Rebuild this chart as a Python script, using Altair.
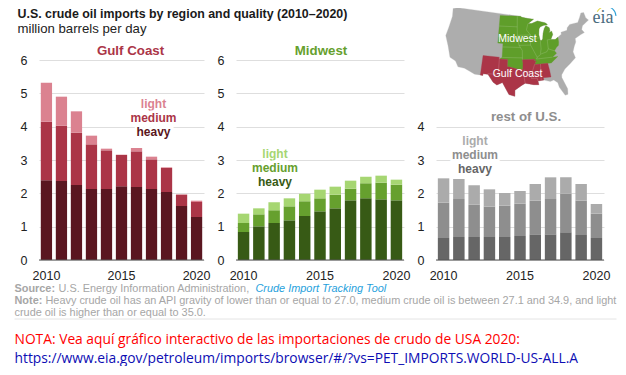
import altair as alt

years = [str(y) for y in range(2010, 2021)]

gulf_heavy = [2.39, 2.37, 2.25, 2.13, 2.13, 2.21, 2.19, 2.13, 2.04, 1.62, 1.29]
gulf_medium = [4.15, 4.03, 3.82, 3.47, 3.29, 3.15, 3.26, 3.02, 2.76, 1.96, 1.74]
gulf_light = [5.32, 4.90, 4.46, 3.73, 3.34, 3.16, 3.36, 3.10, 2.78, 1.97, 1.78]

mid_heavy = [0.84, 1.01, 1.11, 1.19, 1.32, 1.46, 1.55, 1.79, 1.85, 1.82, 1.79]
mid_medium = [1.11, 1.37, 1.49, 1.61, 1.76, 1.85, 1.96, 2.14, 2.30, 2.32, 2.26]
mid_light = [1.39, 1.55, 1.73, 1.85, 1.99, 2.11, 2.20, 2.38, 2.50, 2.53, 2.41]

rest_heavy = [0.66, 0.69, 0.69, 0.69, 0.69, 0.72, 0.77, 0.77, 0.83, 0.75, 0.66]
rest_medium = [1.72, 1.83, 1.66, 1.60, 1.63, 1.69, 1.78, 1.83, 1.99, 1.78, 1.39]
rest_light = [2.45, 2.43, 2.24, 2.12, 2.01, 2.07, 2.28, 2.48, 2.48, 2.28, 1.68]

# Rough lon/lat outlines for the locator map
us_outline = [[-124.7,48.4],[-122.8,49],[-95.2,49],[-94.6,48.7],[-92,48.3],[-89.6,48],[-92.1,46.8],[-90.5,46.8],[-88,47.4],[-85,46.7],[-84.5,46.5],[-84,46],[-85.5,46],[-87,45.7],[-87.6,45.1],[-87.9,43.5],[-87.6,41.8],[-87,41.7],[-86.5,42.1],[-86.2,43.5],[-85.5,45],[-84.7,45.8],[-83.4,45.1],[-83.3,44.2],[-83.9,43.7],[-82.6,44],[-82.4,43],[-83.1,42.1],[-83.4,41.7],[-81.7,41.5],[-79,42.7],[-79,43.3],[-76.5,43.5],[-76.2,44.2],[-74.9,45],[-71.5,45],[-70.3,46.2],[-69.2,47.4],[-68,47.3],[-67.8,45.7],[-67,44.8],[-70,43.7],[-70.7,42.7],[-70,41.7],[-71.5,41.4],[-74,40.7],[-74.1,39.7],[-75,38.6],[-75.9,37.1],[-75.5,35.3],[-77.8,33.9],[-79.9,32.7],[-81.3,31.2],[-81.4,30.4],[-80.1,26.9],[-80.3,25.3],[-81.2,25.2],[-82.7,27.7],[-83,29.1],[-84.2,30],[-85.4,29.7],[-87.5,30.3],[-89.5,30.2],[-89.3,29.1],[-91,29.2],[-93.8,29.7],[-95,29.1],[-97.2,27.7],[-97.2,25.9],[-99.1,26.4],[-101.4,29.8],[-103.2,29],[-104.5,29.7],[-106.5,31.8],[-108.2,31.8],[-108.2,31.33],[-111,31.33],[-114.8,32.5],[-117.1,32.5],[-118.4,34],[-120.6,34.6],[-122.4,37.7],[-124.3,40.3],[-124.1,43],[-124,46.2],[-124.7,48.4]]
midwest_outline = [[-104.05,49],[-95.2,49],[-94.6,48.7],[-92,48.3],[-89.6,48],[-92.1,46.8],[-90.5,46.8],[-88,47.4],[-85,46.7],[-84.5,46.5],[-84,46],[-85.5,46],[-87,45.7],[-87.6,45.1],[-87.9,43.5],[-87.6,41.8],[-87,41.7],[-86.5,42.1],[-86.2,43.5],[-85.5,45],[-84.7,45.8],[-83.4,45.1],[-83.3,44.2],[-83.9,43.7],[-82.6,44],[-82.4,43],[-83.1,42.1],[-83.4,41.7],[-81.7,41.5],[-80.52,41.98],[-80.52,40.64],[-80.8,39.7],[-81.7,39.2],[-82.6,38.3],[-81.96,37.54],[-83.67,36.6],[-81.68,36.59],[-84.32,35],[-90.3,35],[-89.7,36],[-90.4,36],[-90.1,36.5],[-94.6,36.5],[-94.43,35.4],[-94.5,33.6],[-96.5,33.8],[-100,34.5],[-100,36.5],[-103,36.5],[-102.05,37],[-102.05,41],[-104.05,41],[-104.05,49]]
gulf_outline = [[-109.05,37],[-103,37],[-103,36.5],[-100,36.5],[-100,34.5],[-96.5,33.8],[-94.5,33.6],[-94.43,35.4],[-94.6,36.5],[-90.1,36.5],[-90.4,36],[-89.7,36],[-90.3,35],[-88.2,35],[-85.6,35],[-85.2,32.9],[-85,31],[-87.6,31],[-87.5,30.3],[-89.5,30.2],[-89.3,29.1],[-91,29.2],[-93.8,29.7],[-95,29.1],[-97.2,27.7],[-97.2,25.9],[-99.1,26.4],[-101.4,29.8],[-103.2,29],[-104.5,29.7],[-106.5,31.8],[-108.2,31.8],[-108.2,31.33],[-109.05,31.33],[-109.05,37]]
state_lines = [[[-104.05,45.94],[-96.56,45.94]],[[-104.05,43],[-98.5,43],[-96.45,42.5]],[[-102.05,40],[-95.3,40]],[[-102,37],[-94.6,37]],[[-96.56,49],[-96.56,45.3],[-96.45,43.5],[-96.45,42.5],[-95.8,40.6],[-94.6,39.1],[-94.6,36.5]],[[-96.45,43.5],[-91.2,43.5]],[[-95.8,40.6],[-91.4,40.6]],[[-90.6,42.5],[-87.8,42.5]],[[-87.5,41.7],[-87.5,39.3],[-87.9,37.9]],[[-84.8,41.7],[-84.8,39.1]],[[-84.8,41.7],[-83.4,41.7]],[[-89.5,36.5],[-83.67,36.6]],[[-89.2,37],[-87.5,37.9],[-85.5,38.3],[-84.8,39.1],[-82.6,38.3]],[[-92.1,46.8],[-92.8,45],[-91.2,43.5],[-91.4,40.6],[-90.2,38.7],[-89.2,37],[-89.5,36.5]],[[-103,37],[-103,32]],[[-106.6,32],[-103,32]],[[-94.04,33.6],[-94.04,31],[-93.8,29.7]],[[-94.04,33],[-91.2,33]],[[-90.3,35],[-91.2,33],[-91.6,31],[-89.7,31],[-89.5,30.2]],[[-88.2,35],[-88.4,30.3]]]


def poly(ring):
    return {"type": "FeatureCollection", "features": [
        {"type": "Feature", "properties": {}, "geometry": {"type": "Polygon", "coordinates": [ring]}}]}


def geo(collection):
    return alt.InlineData(values=collection, format=alt.DataFormat(property="features", type="json"))


projection = dict(type="albersUsa", scale=198, translate=[81, -8])
one = alt.Data(values=[{"a": 1}])


def text(s, x, y, size=12, color="#222222", weight="normal", align="left", font="Liberation Sans",
         style="normal", halo=False):
    kw = dict(text=s, fontSize=size, color=color, fontWeight=weight, align=align, font=font,
              fontStyle=style, baseline="middle")
    c = alt.Chart(one).mark_text(**kw).encode(x=alt.value(x), y=alt.value(y))
    if halo:
        back = alt.Chart(one).mark_text(stroke="white", strokeWidth=5, **kw).encode(x=alt.value(x), y=alt.value(y))
        return [back, c]
    return [c]


def bars(heavy, medium, light, colors, y_values):
    rows = []
    for yr, h, m, l in zip(years, heavy, medium, light):
        rows.append({"year": yr, "grade": "heavy", "low": 0, "high": h})
        rows.append({"year": yr, "grade": "medium", "low": h, "high": m})
        rows.append({"year": yr, "grade": "light", "low": m, "high": l})
    x = alt.X("year:N", scale=alt.Scale(paddingInner=0.25, paddingOuter=0.12), title=None,
              axis=alt.Axis(values=["2010", "2015", "2020"], labelAngle=0, ticks=False, domain=False,
                            grid=False, labelFontSize=12.5, labelColor="#222222", labelPadding=9,
                            labelFont="Liberation Sans"))
    y = alt.Y("low:Q", scale=alt.Scale(domain=[0, 6]), title=None,
              axis=alt.Axis(values=y_values, tickCount=len(y_values), ticks=False, domain=False,
                            gridColor="#dedede", labelFontSize=12.5, labelColor="#222222", labelPadding=12,
                            labelFont="Liberation Sans"))
    b = alt.Chart(alt.Data(values=rows)).mark_bar().encode(
        x=x, y=y, y2="high:Q",
        color=alt.Color("grade:N", legend=None,
                        scale=alt.Scale(domain=["heavy", "medium", "light"], range=colors)))
    base = alt.Chart(alt.Data(values=[{"v": 0}])).mark_rule(color="#555555", strokeWidth=1.2).encode(
        y=alt.Y("v:Q", scale=alt.Scale(domain=[0, 6])))
    return [b, base]


gulf_colors = ["#5a1620", "#ab3547", "#db8290"]
mid_colors = ["#375a15", "#66a02e", "#a6d672"]
rest_colors = ["#666666", "#8e8e8e", "#ababab"]

# Offsets from the plot origin of the first panel
OX, OY = 38.5, 59.5
GREY = "#a6a6a6"
NOTE = 10.9

layers_gulf = bars(gulf_heavy, gulf_medium, gulf_light, gulf_colors, [0, 1, 2, 3, 4, 5, 6])
layers_gulf += text("U.S. crude oil imports by region and quality (2010–2020)", 17 - OX, 13 - OY, 12.4, "#1a1a1a", "bold")
layers_gulf += text("million barrels per day", 17 - OX, 28 - OY, 13.2, "#222222")
layers_gulf += text("Gulf Coast", 130 - OX, 50.5 - OY, 13.3, "#ab3547", "bold", "center")
layers_gulf += text("light", 153 - OX, 103 - OY, 12, "#db8290", "bold", "center", halo=True)
layers_gulf += text("medium", 153 - OX, 117 - OY, 12, "#ab3547", "bold", "center", halo=True)
layers_gulf += text("heavy", 153 - OX, 131 - OY, 12, "#5a1620", "bold", "center", halo=True)
layers_gulf += text("Source:", 14 - OX, 288 - OY, NOTE, GREY, "bold")
layers_gulf += text("U.S. Energy Information Administration,", 58 - OX, 288 - OY, NOTE, GREY)
layers_gulf += text("Crude Import Tracking Tool", 255 - OX, 288 - OY, NOTE, "#1f9fdc", style="italic")
layers_gulf += text("Note:", 14 - OX, 300 - OY, NOTE, GREY, "bold")
layers_gulf += text("Heavy crude oil has an API gravity of lower than or equal to 27.0, medium crude oil is between 27.1 and 34.9, and light", 45 - OX, 300 - OY, NOTE, GREY)
layers_gulf += text("crude oil is higher than or equal to 35.0.", 14 - OX, 312.5 - OY, NOTE, GREY)
layers_gulf.append(
    alt.Chart(one).mark_rule(color="#e4e4e4", strokeWidth=1).encode(
        x=alt.value(14 - OX), x2=alt.value(616 - OX), y=alt.value(318.5 - OY))
)
layers_gulf += text("NOTA: Vea aquí gráfico interactivo de las importaciones de crudo de USA 2020:", 14 - OX, 339 - OY, 13.8, "#ff0000", font="Open Sans", weight=500)
layers_gulf += text("https://www.eia.gov/petroleum/imports/browser/#/?vs=PET_IMPORTS.WORLD-US-ALL.A", 14 - OX, 358 - OY, 13.8, "#0d0db4", font="Open Sans", weight=500)

layers_mid = bars(mid_heavy, mid_medium, mid_light, mid_colors, [0, 1, 2, 3, 4, 5, 6])
layers_mid += text("Midwest", 85, -9, 13.3, "#66a02e", "bold", "center")
layers_mid += text("light", 39, 93.5, 12, "#a6d672", "bold", "center", halo=True)
layers_mid += text("medium", 39, 107.5, 12, "#66a02e", "bold", "center", halo=True)
layers_mid += text("heavy", 39, 121.5, 12, "#375a15", "bold", "center", halo=True)

map_layers = [
    alt.Chart(geo(poly(us_outline))).mark_geoshape(fill="#adadad", stroke="#bdbdbd", strokeWidth=0.3, clip=False).project(**projection),
    alt.Chart(geo(poly(midwest_outline))).mark_geoshape(fill="#5f9e2a", stroke="#5f9e2a", strokeWidth=0.3, clip=False).project(**projection),
    alt.Chart(geo(poly(gulf_outline))).mark_geoshape(fill="#ab3547", stroke="#ab3547", strokeWidth=0.3, clip=False).project(**projection),
    alt.Chart(geo({"type": "FeatureCollection", "features": [
        {"type": "Feature", "properties": {}, "geometry": {"type": "MultiLineString", "coordinates": state_lines}}]})
    ).mark_geoshape(filled=False, stroke="#ffffff", strokeOpacity=0.3, strokeWidth=0.5, clip=False).project(**projection),
]

layers_rest = map_layers + bars(rest_heavy, rest_medium, rest_light, rest_colors, [0, 1, 2, 3, 4])
layers_rest += text("Midwest", 81.5, -21.5, 10.5, "#ffffff", align="center")
layers_rest += text("Gulf Coast", 81.5, 13.5, 10.5, "#ffffff", align="center")
layers_rest += text("rest of U.S.", 90, 57, 13.3, "#8e8e8e", "bold", "center")
layers_rest += text("light", 39, 81, 12, "#ababab", "bold", "center", halo=True)
layers_rest += text("medium", 39, 95, 12, "#8e8e8e", "bold", "center", halo=True)
layers_rest += text("heavy", 39, 109, 12, "#666666", "bold", "center", halo=True)
layers_rest += text("eia", 167, -42, 18, "#4a6d80", font="Liberation Serif", align="center")
for col, t0, t1 in [("#e6d84a", 5.2, 5.8), ("#8cc63f", 5.8, 6.2), ("#2a9fd6", 6.2, 7.8)]:
    layers_rest.append(
        alt.Chart(one).mark_arc(color=col, radius=10.5, radius2=9.5, theta=t0, theta2=t1).encode(
            x=alt.value(170), y=alt.value(-43.5))
    )

gulf = alt.layer(*layers_gulf).properties(width=165, height=200)
mid = alt.layer(*layers_mid).properties(width=168, height=200)
rest = alt.layer(*layers_rest).properties(width=168, height=200)

chart = alt.hconcat(gulf, mid, rest, spacing=32, bounds="flush").resolve_scale(
    x="independent", y="independent", color="independent"
).configure_view(stroke=None).properties(
    padding={"left": 6, "top": -2, "right": 0, "bottom": 0}, background="white"
)

chart.save("out.html", embed_options={"renderer": "svg", "actions": False})
